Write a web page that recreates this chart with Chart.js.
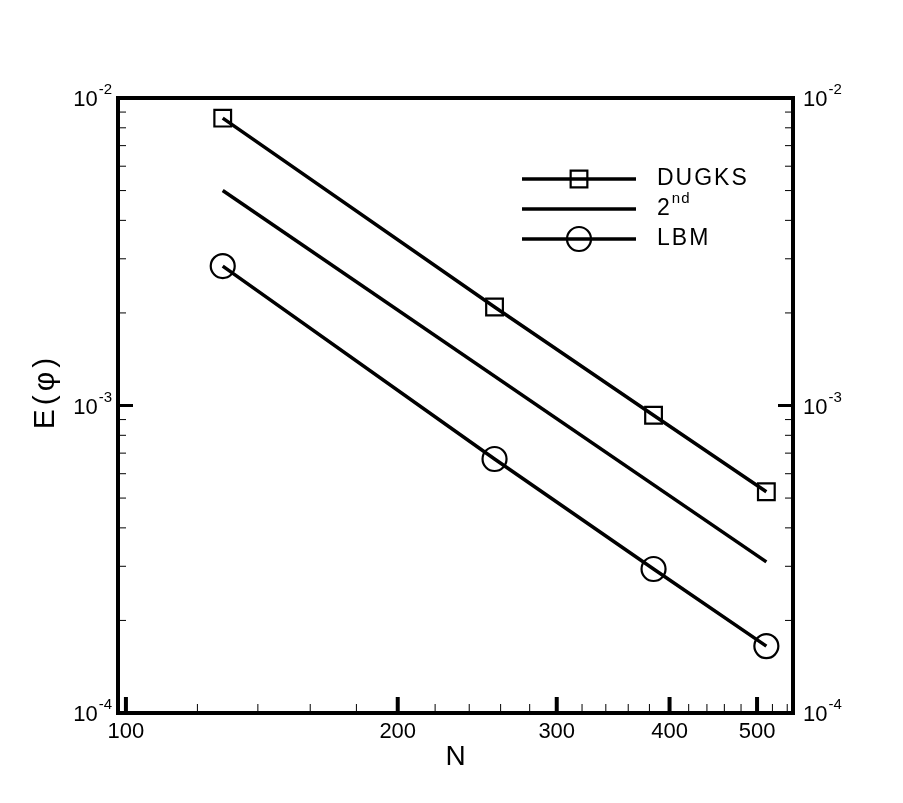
<!DOCTYPE html>
<html>
    <head>
        <meta charset="UTF-8">
        <title>E(phi) convergence</title>
        <script src="https://cdn.jsdelivr.net/npm/chart.js@4.4.1/dist/chart.umd.min.js"></script>
        <style>
            body{
                margin: 0;
                background-color: white;
            }
            #miCanvas{
                display: block;
            }
        </style>
    </head>
    <body>
        <canvas id="miCanvas" width="903" height="803"></canvas>
        <script>
            // data
            const gridN = [128, 256, 384, 512];
            const dugksErr = [8.6e-3, 2.09e-3, 9.3e-4, 5.24e-4];
            const lbmErr = [2.84e-3, 6.7e-4, 2.94e-4, 1.65e-4];
            const secondN = [128, 512];
            const secondErr = [5.0e-3, 3.1e-4];

            const xMajorTicks = [100, 200, 300, 400, 500];
            const xMinorTicks = [120, 140, 160, 180, 220, 240, 260, 280, 320, 340, 360, 380, 420, 440, 460, 480, 520, 540];
            const yDecades = [-4, -3, -2];
            const yMantissas = [2, 3, 4, 5, 6, 7, 8, 9];

            const legendNames = ["DUGKS", "2", "LBM"];
            const FONT = "'Liberation Sans', Arial, sans-serif";

            const toPts = (xs, ys) => xs.map((x, i) => ({x: x, y: ys[i]}));

            const framePlugin = {
                id: 'frame',
                afterDraw(chart){
                    const ctx = chart.ctx;
                    const ca = chart.chartArea;
                    const xs = chart.scales.x;
                    const ys = chart.scales.y;
                    ctx.save();
                    ctx.strokeStyle = 'black';
                    ctx.fillStyle = 'black';
                    ctx.lineCap = 'butt';

                    // y ticks, inward on both sides
                    yDecades.forEach((e, k) => {
                        const yp = ys.getPixelForValue(Math.pow(10, e));
                        ctx.lineWidth = 3;
                        ctx.beginPath();
                        ctx.moveTo(ca.left, yp); ctx.lineTo(ca.left + 15, yp);
                        ctx.moveTo(ca.right, yp); ctx.lineTo(ca.right - 15, yp);
                        ctx.stroke();
                        if(k < yDecades.length - 1){
                            ctx.lineWidth = 1;
                            yMantissas.forEach(m => {
                                const yv = ys.getPixelForValue(m * Math.pow(10, e));
                                ctx.beginPath();
                                ctx.moveTo(ca.left, yv); ctx.lineTo(ca.left + 8, yv);
                                ctx.moveTo(ca.right, yv); ctx.lineTo(ca.right - 8, yv);
                                ctx.stroke();
                            });
                        }
                    });

                    // x ticks, inward at the bottom
                    ctx.lineWidth = 4;
                    xMajorTicks.forEach(v => {
                        const xp = xs.getPixelForValue(v);
                        ctx.beginPath();
                        ctx.moveTo(xp, ca.bottom); ctx.lineTo(xp, ca.bottom - 16);
                        ctx.stroke();
                    });
                    ctx.lineWidth = 1;
                    xMinorTicks.forEach(v => {
                        const xp = xs.getPixelForValue(v);
                        ctx.beginPath();
                        ctx.moveTo(xp, ca.bottom); ctx.lineTo(xp, ca.bottom - 9);
                        ctx.stroke();
                    });

                    // frame
                    ctx.lineWidth = 4;
                    ctx.strokeRect(ca.left, ca.top, ca.right - ca.left, ca.bottom - ca.top);

                    // x labels
                    ctx.font = '22px ' + FONT;
                    ctx.textAlign = 'center';
                    ctx.textBaseline = 'alphabetic';
                    xMajorTicks.forEach(v => {
                        ctx.fillText(String(v), xs.getPixelForValue(v), ca.bottom + 25);
                    });

                    // y labels 10^e
                    const drawPow = (e, xp, yp, align) => {
                        ctx.textAlign = 'left';
                        ctx.font = '22px ' + FONT;
                        const w1 = ctx.measureText('10').width + 1;
                        ctx.font = '15px ' + FONT;
                        const sup = String(e);
                        const w2 = ctx.measureText(sup).width;
                        const x0 = align === 'right' ? xp - w1 - w2 : xp;
                        ctx.font = '22px ' + FONT;
                        ctx.fillText('10', x0, yp + 8);
                        ctx.font = '15px ' + FONT;
                        ctx.fillText(sup, x0 + w1, yp - 4);
                    };
                    yDecades.forEach(e => {
                        const yp = ys.getPixelForValue(Math.pow(10, e));
                        drawPow(e, ca.left - 6, yp, 'right');
                        drawPow(e, ca.right + 10, yp, 'left');
                    });

                    // axis titles
                    ctx.font = '28px ' + FONT;
                    ctx.textAlign = 'center';
                    ctx.fillText('N', (ca.left + ca.right) / 2, ca.bottom + 52);
                    ctx.save();
                    ctx.translate(54, (ca.top + ca.bottom) / 2 - 14);
                    ctx.rotate(-Math.PI / 2);
                    ctx.font = '30px ' + FONT;
                    ctx.letterSpacing = '4px';
                    ctx.fillText('E(\u03c6)', 0, 0);
                    ctx.restore();

                    // legend
                    const lx0 = 522, lx1 = 636, lmx = 579, ltx = 657;
                    const rows = [179, 209, 239];
                    chart.data.datasets.forEach((ds, i) => {
                        const ry = rows[i];
                        ctx.lineWidth = ds.borderWidth;
                        ctx.beginPath();
                        ctx.moveTo(lx0, ry); ctx.lineTo(lx1, ry);
                        ctx.stroke();
                        ctx.lineWidth = ds.pointBorderWidth;
                        if(ds.pointRadius > 0){
                            ctx.beginPath();
                            if(ds.pointStyle === 'rect'){
                                const h = ds.pointRadius * Math.SQRT1_2;
                                ctx.rect(lmx - h, ry - h, 2 * h, 2 * h);
                            }else{
                                ctx.arc(lmx, ry, ds.pointRadius, 0, Math.PI * 2);
                            }
                            ctx.stroke();
                        }
                        ctx.textAlign = 'left';
                        ctx.font = '23px ' + FONT;
                        ctx.letterSpacing = '2px';
                        ctx.fillText(legendNames[i], ltx, ry + 6);
                        if(i === 1){
                            const w = ctx.measureText(legendNames[i]).width;
                            ctx.font = '15px ' + FONT;
                            ctx.letterSpacing = '1px';
                            ctx.fillText('nd', ltx + w, ry - 6);
                        }
                        ctx.letterSpacing = '0px';
                    });
                    ctx.restore();
                }
            };

            const miCanvas = document.getElementById("miCanvas").getContext("2d");
            new Chart(miCanvas, {
                type: 'line',
                data: {
                    datasets: [
                        {
                            label: 'DUGKS',
                            data: toPts(gridN, dugksErr),
                            borderColor: 'black',
                            borderWidth: 3.5,
                            pointStyle: 'rect',
                            pointRadius: 11.8,
                            pointBorderWidth: 2.2,
                            pointBorderColor: 'black',
                            pointBackgroundColor: 'rgba(0,0,0,0)',
                            tension: 0
                        },
                        {
                            label: '2nd',
                            data: toPts(secondN, secondErr),
                            borderColor: 'black',
                            borderWidth: 3.5,
                            pointRadius: 0,
                            pointBorderWidth: 0,
                            tension: 0
                        },
                        {
                            label: 'LBM',
                            data: toPts(gridN, lbmErr),
                            borderColor: 'black',
                            borderWidth: 3.5,
                            pointStyle: 'circle',
                            pointRadius: 12,
                            pointBorderWidth: 2.2,
                            pointBorderColor: 'black',
                            pointBackgroundColor: 'rgba(0,0,0,0)',
                            tension: 0
                        }
                    ]
                },
                options: {
                    responsive: false,
                    animation: false,
                    clip: false,
                    layout: { padding: {left: 118, right: 110, top: 98, bottom: 90} },
                    plugins: {
                        legend: { display: false },
                        tooltip: { enabled: false }
                    },
                    scales: {
                        x: { type: 'logarithmic', min: 98, max: 548, display: false },
                        y: { type: 'logarithmic', min: 1e-4, max: 1e-2, display: false }
                    }
                },
                plugins: [framePlugin]
            });
        </script>
    </body>
</html>
